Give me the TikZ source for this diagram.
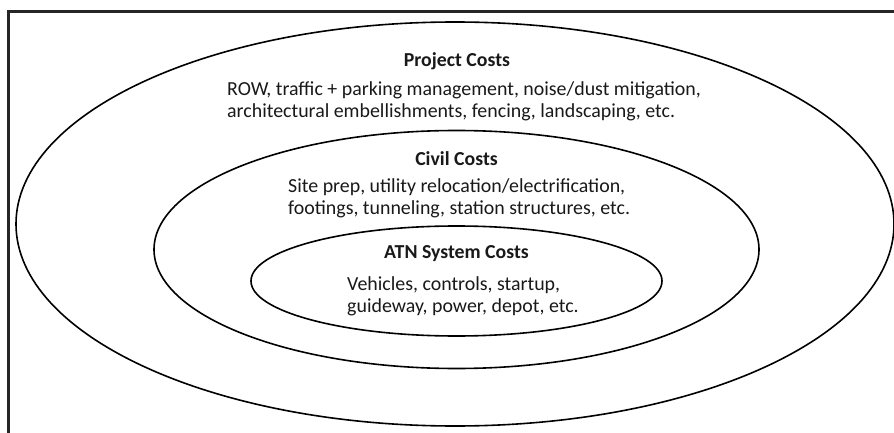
\documentclass[tikz,border=0pt]{standalone}
\usepackage{fontspec}
\setmainfont{Carlito}
\usetikzlibrary{shapes.geometric}
\begin{document}
\begin{tikzpicture}[x=1pt,y=-1pt,
  ring/.style={draw=black, line width=1.6pt, ellipse, inner sep=0pt, outer sep=0pt},
  head/.style={font=\fontsize{19.8}{24}\selectfont\bfseries, anchor=base, inner sep=0pt, text=black!90},
  body/.style={font=\fontsize{19.9}{24}\selectfont, anchor=base west, inner sep=0pt, text=black!90},
  frameline/.style={draw=black!85, line width=2.5pt}]
\useasboundingbox (0,0) rectangle (894,433);
\clip (0,0) rectangle (894,433);
\fill[white] (0,0) rectangle (894,433);
\draw[frameline] (8.7,470) -- (8.7,11.3) -- (930,11.3);
% rings
\node[ring, minimum width=878pt, minimum height=404pt] (outer) at (455,224) {};
\node[ring, minimum width=605pt, minimum height=238pt] (middle) at (456.5,249.5) {};
\node[ring, minimum width=411pt, minimum height=110pt] (inner) at (456.5,281) {};
% project costs
\node[head] (ph) at (457,67) {Project Costs};
\node[body] (p1) at (227,96) {ROW, traffic + parking management, noise/dust mitigation,};
\node[body] (p2) at (227,118) {architectural embellishments, fencing, landscaping, etc.};
% civil costs
\node[head] (ch) at (456.5,165) {Civil Costs};
\node[body] (c1) at (288,192) {Site prep, utility relocation/electrification,};
\node[body] (c2) at (288,214) {footings, tunneling, station structures, etc.};
% ATN system costs
\node[head] (ah) at (456.5,258) {ATN System Costs};
\node[body] (a1) at (347,290) {Vehicles, controls, startup,};
\node[body] (a2) at (347,312) {guideway, power, depot, etc.};
\end{tikzpicture}
\end{document}
